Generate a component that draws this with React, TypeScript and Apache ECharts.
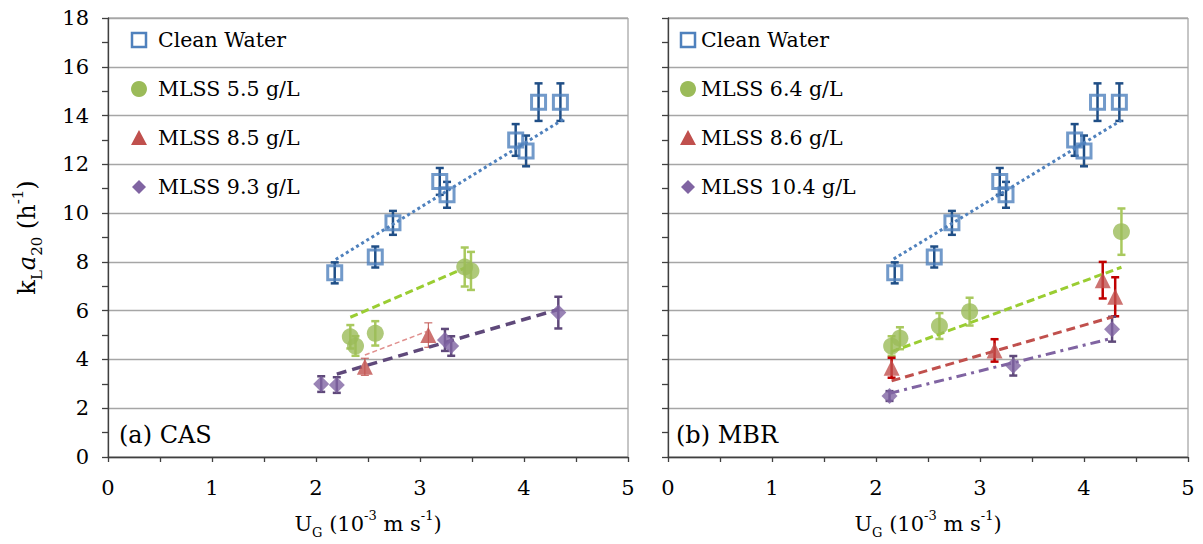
import React, { useEffect, useRef } from "react";
import * as echarts from "echarts";

const FONT = '"DejaVu Serif", serif';

// x ticks / y ticks
const xTicks = [0, 1, 2, 3, 4, 5];
const yTicks = [0, 2, 4, 6, 8, 10, 12, 14, 16, 18];

// ---------- Panel (a) CAS ----------
const cwX_A = [2.18, 2.57, 2.74, 3.19, 3.26, 3.92, 4.02, 4.14, 4.35];
const cwY_A = [7.55, 8.2, 9.6, 11.3, 10.75, 13.0, 12.55, 14.55, 14.55];
const cwE_A = [0.43, 0.43, 0.49, 0.55, 0.53, 0.65, 0.63, 0.77, 0.77];

const m55X = [2.33, 2.38, 2.57, 3.43, 3.49];
const m55Y = [4.93, 4.55, 5.07, 7.79, 7.63];
const m55E = [0.48, 0.4, 0.5, 0.8, 0.78];

const m85X = [2.47, 3.08];
const m85Y = [3.7, 5.0];
const m85E = [0.35, 0.5];

const m93X = [2.05, 2.2, 3.24, 3.3, 4.33];
const m93Y = [2.99, 2.95, 4.8, 4.55, 5.92];
const m93E = [0.32, 0.32, 0.45, 0.4, 0.65];

const fitCW_A = [[2.19, 8.1], [4.38, 13.85]];
const fit55 = [[2.33, 5.73], [3.43, 7.75]];
const fit85 = [[2.47, 4.18], [3.06, 5.14]];
const fit93 = [[2.2, 3.4], [4.33, 6.05]];

// ---------- Panel (b) MBR ----------
const cwX_B = [2.18, 2.56, 2.73, 3.19, 3.25, 3.91, 4.0, 4.13, 4.34];
const cwY_B = [7.55, 8.2, 9.6, 11.3, 10.75, 13.0, 12.55, 14.55, 14.55];
const cwE_B = [0.43, 0.43, 0.49, 0.55, 0.53, 0.65, 0.63, 0.77, 0.77];

const m64X = [2.15, 2.23, 2.61, 2.9, 4.36];
const m64Y = [4.55, 4.87, 5.37, 5.96, 9.24];
const m64E = [0.4, 0.45, 0.53, 0.57, 0.95];

const m86X = [2.15, 3.14, 4.18, 4.3];
const m86Y = [3.66, 4.37, 7.25, 6.57];
const m86E = [0.41, 0.46, 0.75, 0.8];

const m104X = [2.13, 3.32, 4.27];
const m104Y = [2.5, 3.74, 5.24];
const m104E = [0.2, 0.4, 0.51];

const fitCW_B = [[2.17, 8.12], [4.36, 13.81]];
const fit64 = [[2.15, 4.32], [4.36, 7.78]];
const fit86 = [[2.15, 3.12], [4.28, 5.75]];
const fit104 = [[2.13, 2.61], [4.27, 4.87]];

const legendA = ["Clean Water", "MLSS 5.5 g/L", "MLSS 8.5 g/L", "MLSS 9.3 g/L"];
const legendB = ["Clean Water", "MLSS 6.4 g/L", "MLSS 8.6 g/L", "MLSS 10.4 g/L"];
const panelLabels = ["(a) CAS", "(b) MBR"];

const BLUE = "#4F81BD";
const BLUE_ERR = "#1F4E86";
const GREEN = "#9BBB59";
const GREEN_ERR = "#A9C95E";
const RED = "#C0504D";
const PURPLE = "#8064A2";
const PURPLE_ERR = "#5F497A";

const zip = (xs: number[], ys: number[], es?: number[]) =>
  xs.map((x, i) => (es ? [x, ys[i], es[i]] : [x, ys[i]]));

function errSeries(idx: number, xs: number[], ys: number[], es: number[], color: string, lw: number, cap: number) {
  return {
    type: "custom",
    xAxisIndex: idx,
    yAxisIndex: idx,
    silent: true,
    encode: { x: 0, y: 1 },
    data: zip(xs, ys, es),
    z: 2,
    renderItem: (params: any, api: any) => {
      const x = api.value(0);
      const y = api.value(1);
      const e = api.value(2);
      const t = api.coord([x, y + e]);
      const b = api.coord([x, y - e]);
      const st = { stroke: color, lineWidth: lw };
      return {
        type: "group",
        children: [
          { type: "line", shape: { x1: t[0], y1: t[1], x2: b[0], y2: b[1] }, style: st },
          { type: "line", shape: { x1: t[0] - cap, y1: t[1], x2: t[0] + cap, y2: t[1] }, style: st },
          { type: "line", shape: { x1: b[0] - cap, y1: b[1], x2: b[0] + cap, y2: b[1] }, style: st },
        ],
      };
    },
  };
}

function fitSeries(idx: number, data: number[][], color: string, width: number, type: any) {
  return {
    type: "line",
    xAxisIndex: idx,
    yAxisIndex: idx,
    data,
    symbol: "none",
    silent: true,
    z: 3,
    lineStyle: { color, width, type, cap: "butt" },
  };
}

function scatter(idx: number, name: string, xs: number[], ys: number[], symbol: string, size: number, itemStyle: any) {
  return {
    type: "scatter",
    name,
    xAxisIndex: idx,
    yAxisIndex: idx,
    data: zip(xs, ys),
    symbol,
    symbolSize: size,
    itemStyle,
    z: 4,
  };
}

const richX = {
  n: { fontFamily: FONT, fontSize: 21, color: "#000", lineHeight: 30 },
  sub: { fontFamily: FONT, fontSize: 13, color: "#000", lineHeight: 30, verticalAlign: "bottom" },
  sup: { fontFamily: FONT, fontSize: 13, color: "#000", lineHeight: 30, verticalAlign: "top" },
};
const richY = {
  n: { fontFamily: FONT, fontSize: 24, color: "#000", lineHeight: 34 },
  it: { fontFamily: FONT, fontSize: 24, color: "#000", lineHeight: 34, fontStyle: "italic" },
  sub: { fontFamily: FONT, fontSize: 15, color: "#000", lineHeight: 34, verticalAlign: "bottom" },
  sup: { fontFamily: FONT, fontSize: 15, color: "#000", lineHeight: 34, verticalAlign: "top" },
};

function legendGraphics(x0: number, textX: number, names: string[]) {
  const ys = [40, 89, 138, 187];
  const els: any[] = [];
  els.push({ type: "rect", shape: { x: x0 - 7, y: ys[0] - 7, width: 14, height: 14 }, style: { fill: "none", stroke: BLUE, lineWidth: 2.5 } });
  els.push({ type: "circle", shape: { cx: x0, cy: ys[1], r: 8 }, style: { fill: GREEN } });
  els.push({ type: "polygon", shape: { points: [[x0, ys[2] - 8], [x0 + 8, ys[2] + 7], [x0 - 8, ys[2] + 7]] }, style: { fill: RED } });
  els.push({ type: "polygon", shape: { points: [[x0, ys[3] - 7], [x0 + 7, ys[3]], [x0, ys[3] + 7], [x0 - 7, ys[3]]] }, style: { fill: PURPLE } });
  names.forEach((n, i) => {
    els.push({
      type: "text",
      x: textX,
      y: ys[i],
      style: { text: n, fill: "#000", font: `20.5px ${FONT}`, verticalAlign: "middle", align: "left" },
    });
  });
  return els;
}

export default function App() {
  const ref = useRef<HTMLDivElement>(null);
  useEffect(() => {
    if (!ref.current) return;
    const chart = echarts.init(ref.current, undefined, { renderer: "svg" });

    const xAxisBase = (idx: number) => ({
      type: "value",
      gridIndex: idx,
      min: xTicks[0],
      max: xTicks[xTicks.length - 1],
      interval: 1,
      name: "{n|U}{sub|G}{n| (10}{sup|-3}{n| m s}{sup|-1}{n|)}",
      nameLocation: "middle",
      nameGap: 52,
      nameTextStyle: { rich: richX },
      axisLine: { show: true, onZero: false, lineStyle: { color: "#404040", width: 1.3 } },
      axisTick: { show: true, length: 5, lineStyle: { color: "#404040", width: 1.3 } },
      minorTick: { show: true, splitNumber: 2, length: 5, lineStyle: { color: "#404040", width: 1.3 } },
      axisLabel: { fontFamily: FONT, fontSize: 21, color: "#000", margin: 20 },
      splitLine: { show: false },
    });
    const yAxisBase = (idx: number) => ({
      type: "value",
      gridIndex: idx,
      min: yTicks[0],
      max: yTicks[yTicks.length - 1],
      interval: 2,
      axisLine: { show: true, onZero: false, lineStyle: { color: "#404040", width: 1.3 } },
      axisTick: { show: true, length: 6, lineStyle: { color: "#404040", width: 1.3 } },
      minorTick: { show: true, splitNumber: 2, length: 6, lineStyle: { color: "#404040", width: 1.3 } },
      axisLabel: { show: idx === 0, fontFamily: FONT, fontSize: 21, color: "#000", margin: 19 },
      splitLine: { show: true, lineStyle: { color: "#A6A6A6", width: 1.3 } },
      ...(idx === 0
        ? {
            name: "{n|k}{sub|L}{it|a}{sub|20}{n| (h}{sup|-1}{n|)}",
            nameLocation: "middle",
            nameRotate: 90,
            nameGap: 64,
            nameTextStyle: { rich: richY },
          }
        : {}),
    });

    const sqStyle = { color: "rgba(255,255,255,0)", borderColor: BLUE, borderWidth: 3 };

    const option: any = {
      animation: false,
      backgroundColor: "#fff",
      grid: [
        { left: 108, right: 575, top: 18, bottom: 87, show: true, borderColor: "#8c8c8c", borderWidth: 1 },
        { left: 668, right: 15, top: 18, bottom: 87, show: true, borderColor: "#8c8c8c", borderWidth: 1 },
      ],
      xAxis: [xAxisBase(0), xAxisBase(1)],
      yAxis: [yAxisBase(0), yAxisBase(1)],
      series: [
        // panel a
        errSeries(0, cwX_A, cwY_A, cwE_A, BLUE_ERR, 2.5, 4),
        errSeries(0, m55X, m55Y, m55E, GREEN_ERR, 2.5, 4),
        errSeries(0, m85X, m85Y, m85E, RED, 1, 4),
        errSeries(0, m93X, m93Y, m93E, PURPLE_ERR, 2.5, 4),
        fitSeries(0, fitCW_A, BLUE, 3, [3, 3]),
        fitSeries(0, fit55, "#9ACD32", 3, [8, 4]),
        fitSeries(0, fit85, "#E0908E", 1.5, [5, 3]),
        fitSeries(0, fit93, PURPLE_ERR, 3.5, [10, 6]),
        scatter(0, legendA[0], cwX_A, cwY_A, "rect", 14, sqStyle),
        scatter(0, legendA[1], m55X, m55Y, "circle", 17, { color: GREEN }),
        scatter(0, legendA[2], m85X, m85Y, "triangle", 16, { color: RED }),
        scatter(0, legendA[3], m93X, m93Y, "diamond", 16, { color: PURPLE }),
        // panel b
        errSeries(1, cwX_B, cwY_B, cwE_B, BLUE_ERR, 2.5, 4),
        errSeries(1, m64X, m64Y, m64E, GREEN_ERR, 2.5, 4),
        errSeries(1, m86X, m86Y, m86E, "#C00000", 2.5, 4),
        errSeries(1, m104X, m104Y, m104E, PURPLE_ERR, 2.5, 4),
        fitSeries(1, fitCW_B, BLUE, 3, [3, 3]),
        fitSeries(1, fit64, "#9ACD32", 3, [8, 4]),
        fitSeries(1, fit86, RED, 3, [9, 5]),
        fitSeries(1, fit104, PURPLE, 3, [10, 5, 3, 5]),
        scatter(1, legendB[0], cwX_B, cwY_B, "rect", 14, sqStyle),
        scatter(1, legendB[1], m64X, m64Y, "circle", 17, { color: GREEN }),
        scatter(1, legendB[2], m86X, m86Y, "triangle", 16, { color: RED }),
        scatter(1, legendB[3], m104X, m104Y, "diamond", 16, { color: PURPLE }),
      ],
      graphic: [
        ...legendGraphics(139, 158, legendA),
        ...legendGraphics(688, 701, legendB),
        { type: "text", x: 119, y: 435, style: { text: panelLabels[0], fill: "#000", font: `24px ${FONT}`, verticalAlign: "middle" } },
        { type: "text", x: 676, y: 435, style: { text: panelLabels[1], fill: "#000", font: `24px ${FONT}`, verticalAlign: "middle" } },
      ],
    };
    chart.setOption(option);
    return () => chart.dispose();
  }, []);
  return (
    <div
      ref={ref}
      style={{ position: "fixed", left: 0, top: 0, width: 1203, height: 544, background: "#fff" }}
    />
  );
}
